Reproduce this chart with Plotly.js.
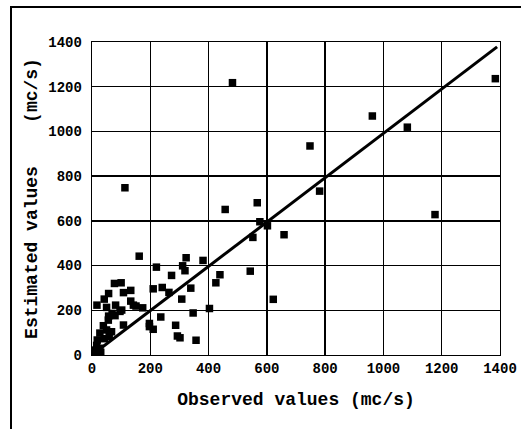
<!DOCTYPE html>
<html>
<head>
<meta charset="utf-8">
<script src="https://cdn.plot.ly/plotly-3.0.1.min.js"></script>
<style>
html,body{margin:0;padding:0;background:#fff;overflow:hidden;}
#frame{position:absolute;left:10px;top:6px;width:540px;height:460px;border-left:2px solid #000;border-top:2px solid #000;}
#chart{position:absolute;left:0;top:0;width:521px;height:429px;}
</style>
</head>
<body>
<div id="frame"></div>
<div id="chart"></div>
<script>
const observed = [482,1384,962,1082,748,781,1177,113,457,567,576,602,552,659,543,622,381,439,425,403,323,311,319,339,347,357,308,302,293,287,273,264,241,236,221,210,197,210,197,162,174,151,133,133,142,108,100,77,57,42,81,96,102,79,50,17,69,57,108,39,27,50,67,59,42,18,16,27,10,8,30,56];
const estimated = [1218,1236,1069,1019,935,733,628,748,651,681,596,578,526,538,375,249,423,359,323,208,435,399,377,299,188,66,250,77,85,133,356,280,302,170,393,296,141,115,127,442,211,219,289,241,223,279,323,320,275,250,223,195,201,176,213,223,186,174,134,131,98,112,104,82,73,67,43,30,22,10,12,156];
const lineX = [0,1390];
const lineY = [0,1378];
const ticks = [0,200,400,600,800,1000,1200,1400];

const fnt = {family:'"Liberation Mono","Courier New",monospace', color:'#000'};
const data = [
  {x:observed, y:estimated, type:'scatter', mode:'markers',
   marker:{symbol:'square', size:7.5, color:'#000'}, hoverinfo:'skip'},
  {x:lineX, y:lineY, type:'scatter', mode:'lines',
   line:{color:'#000', width:3}, hoverinfo:'skip'}
];
const layout = {
  width:521, height:429,
  margin:{l:92, r:21, t:42, b:74},
  paper_bgcolor:'rgba(0,0,0,0)', plot_bgcolor:'#fff',
  showlegend:false,
  xaxis:{range:[0,1400], tickvals:ticks, ticktext:ticks.map(String),
    showgrid:true, gridcolor:'#000', gridwidth:1.3, zeroline:false,
    showline:true, linecolor:'#000', linewidth:1.3, mirror:true,
    ticks:'', tickfont:Object.assign({size:14, weight:'bold'}, fnt),
    title:{text:'Observed values (mc/s)', font:Object.assign({size:18, weight:'bold'}, fnt), standoff:16}},
  yaxis:{range:[0,1400], tickvals:ticks, ticktext:ticks.map(String),
    showgrid:true, gridcolor:'#000', gridwidth:1.3, zeroline:false,
    showline:true, linecolor:'#000', linewidth:1.3, mirror:true,
    ticks:'', ticklabelstandoff:6, tickfont:Object.assign({size:14, weight:'bold'}, fnt),
    title:{text:'\u00A0\u00A0\u00A0Estimated values\u00A0\u00A0\u00A0\u00A0(mc/s)', font:Object.assign({size:18, weight:'bold'}, fnt), standoff:6}}
};
Plotly.newPlot('chart', data, layout, {displayModeBar:false, staticPlot:true});
</script>
</body>
</html>
